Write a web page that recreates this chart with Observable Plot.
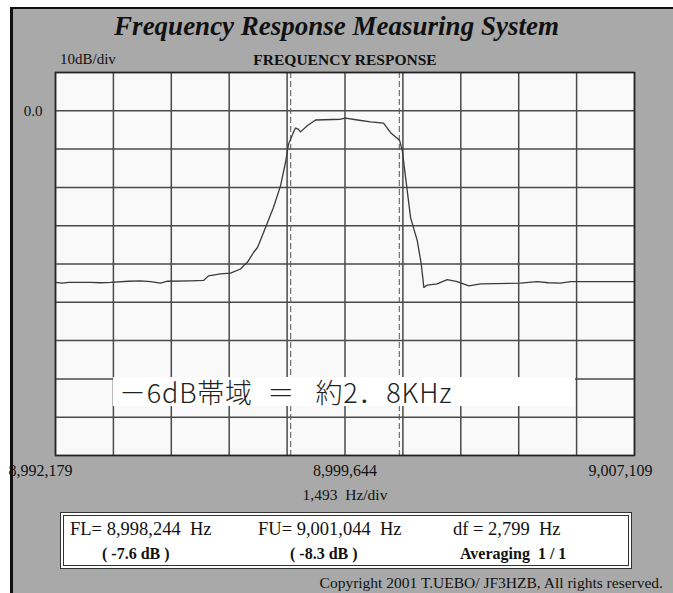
<!DOCTYPE html>
<html>
<head>
<meta charset="utf-8">
<script src="https://cdn.jsdelivr.net/npm/d3@7"></script>
<script src="https://cdn.jsdelivr.net/npm/@observablehq/plot@0.6"></script>
<style>
  html, body { margin: 0; padding: 0; background: #ffffff; }
  body { width: 673px; height: 593px; position: relative; overflow: hidden; }
  #panel { position: absolute; left: 10px; top: 7px; width: 663px; height: 586px;
           background: #a9a9a9; border-left: 3px solid #111; border-top: 2px solid #111; box-sizing: border-box; }
  .t { position: absolute; white-space: pre; line-height: 1; font-family: "Liberation Serif", "Times New Roman", serif; color: #111; }
  #chart { position: absolute; left: 0; top: 0; }
  #note { position: absolute; left: 113px; top: 377px; width: 462px; height: 29px; background: #ffffff;
          font-family: "Noto Sans CJK JP", sans-serif; font-size: 27px; line-height: 29px; color: #222;
          white-space: pre; padding-left: 6px; box-sizing: border-box; font-weight: 300; letter-spacing: 0.8px; }
  #foot { position: absolute; left: 60px; top: 512px; width: 572px; height: 57px; background: #ffffff;
          border: 4px double #333; box-sizing: border-box; }
</style>
</head>
<body>
<div id="panel"></div>
<div id="chart"></div>
<div class="t" style="left:0;width:673px;text-align:center;top:13px;font-size:27px;font-weight:bold;font-style:italic;">Frequency Response Measuring System</div>
<div class="t" style="left:60px;top:52px;font-size:15px;">10dB/div</div>
<div class="t" style="left:245px;width:200px;text-align:center;top:52px;font-size:15.5px;font-weight:bold;">FREQUENCY RESPONSE</div>
<div class="t" style="left:245px;width:200px;text-align:center;top:487px;font-size:15.5px;">1,493  Hz/div</div>
<div id="note">－6dB帯域&#8194;＝&#8194;&#8201;約2．8KHz</div>
<div id="foot"></div>
<div class="t" style="left:70px;top:520px;font-size:18.5px;">FL= 8,998,244  Hz</div>
<div class="t" style="left:258px;top:520px;font-size:18.5px;">FU= 9,001,044  Hz</div>
<div class="t" style="left:453px;top:520px;font-size:18.5px;">df = 2,799  Hz</div>
<div class="t" style="left:102px;top:546px;font-size:16px;font-weight:bold;">( -7.6 dB )</div>
<div class="t" style="left:290px;top:546px;font-size:16px;font-weight:bold;">( -8.3 dB )</div>
<div class="t" style="left:460px;top:546px;font-size:16px;font-weight:bold;">Averaging  1 / 1</div>
<div class="t" style="right:10px;top:575px;font-size:15.5px;">Copyright 2001 T.UEBO/ JF3HZB, All rights reserved.</div>
<script>
// ---- data ----
const freqHz = [8992179, 8992360, 8992514, 8993081, 8993339, 8993597, 8994061, 8994371, 8994629, 8994887,
  8995068, 8995661, 8995996, 8996125, 8996434, 8996692, 8996950, 8997053, 8997131, 8997285,
  8997388, 8997595, 8997801, 8997981, 8998110, 8998188, 8998309, 8998368, 8998438, 8998497,
  8998670, 8998884, 8999529, 8999658, 8999968, 9000303, 9000638, 9000819, 9001051, 9001121,
  9001206, 9001335, 9001507, 9001610, 9001677, 9001764, 9002022, 9002280, 9002538, 9002837,
  9003139, 9004170, 9004601, 9004893, 9005201, 9005459, 9006491, 9007109];
const levelDb = [-44.8, -45.0, -44.8, -44.8, -44.9, -44.8, -44.5, -44.4, -44.6, -45.0,
  -44.5, -44.4, -44.3, -43.1, -42.6, -42.4, -41.3, -40.2, -39.5, -37.0,
  -35.7, -30.5, -25.2, -19.6, -13.5, -8.7, -5.7, -4.5, -4.8, -5.5,
  -3.9, -2.4, -2.2, -1.9, -2.4, -2.9, -3.2, -5.7, -7.7, -10.4,
  -17.4, -27.9, -33.9, -40.0, -46.1, -45.5, -45.2, -44.1, -44.6, -45.7,
  -45.2, -45.0, -44.6, -44.9, -45.0, -44.6, -44.6, -44.6];
const xStart = 8992179;
const xCenter = 8999644;
const xEnd = 9007109;
const hzPerDiv = 1493;
const dbTop = 10;
const dbBottom = -90;
const dbPerDiv = 10;
const fLower = 8998244;
const fUpper = 9001044;
const yLabelValues = [0];
const yLabelTexts = ["0.0"];

// ---- derived ----
const curve = freqHz.map((f, i) => ({f, db: levelDb[i]}));
const gridX = d3.range(0, 11).map(i => xStart + i * hzPerDiv);
const gridY = d3.range(dbBottom, dbTop + 1, dbPerDiv);
const fmt = d3.format(",");
const serif = "'Liberation Serif', 'Times New Roman', serif";

const chart = Plot.plot({
  width: 673,
  height: 593,
  marginLeft: 55,
  marginRight: 39,
  marginTop: 72,
  marginBottom: 138,
  style: {background: "transparent", fontFamily: serif, color: "#111", overflow: "visible"},
  x: {domain: [xStart, xEnd], axis: null},
  y: {domain: [dbBottom, dbTop], axis: null},
  marks: [
    Plot.frame({fill: "#f9f9f9", stroke: null}),
    Plot.ruleX(gridX, {stroke: "#4a4a4a", strokeWidth: 1.5}),
    Plot.ruleY(gridY, {stroke: "#4a4a4a", strokeWidth: 1.5}),
    Plot.ruleX([fLower, fUpper], {stroke: "#555", strokeWidth: 1, strokeDasharray: "6,3"}),
    Plot.line(curve, {x: "f", y: "db", stroke: "#3a3a3a", strokeWidth: 1.3}),
    Plot.frame({stroke: "#222", strokeWidth: 1.5}),
    Plot.text([xStart], {x: d => d, frameAnchor: "bottom", lineAnchor: "bottom", dy: 20, dx: -47, textAnchor: "start", text: d => fmt(d), fontSize: 16, fill: "#111"}),
    Plot.text([xCenter], {x: d => d, frameAnchor: "bottom", lineAnchor: "bottom", dy: 20, textAnchor: "middle", text: d => fmt(d), fontSize: 16, fill: "#111"}),
    Plot.text([xEnd], {x: d => d, frameAnchor: "bottom", lineAnchor: "bottom", dy: 20, dx: 18, textAnchor: "end", text: d => fmt(d), fontSize: 16, fill: "#111"}),
    Plot.text(yLabelValues, {y: d => d, frameAnchor: "left", dx: -13, textAnchor: "end", text: (d, i) => yLabelTexts[i], fontSize: 15, fill: "#111"})
  ]
});
document.getElementById("chart").appendChild(chart);
</script>
</body>
</html>
